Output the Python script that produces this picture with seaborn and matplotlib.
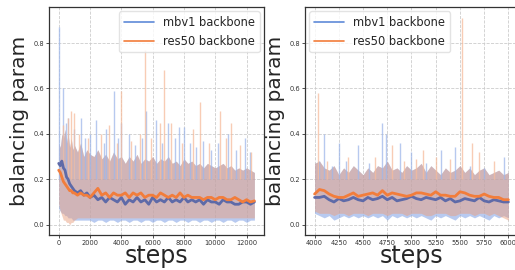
import numpy as np
import pandas as pd
import matplotlib
matplotlib.use("Agg")
import matplotlib.pyplot as plt
import seaborn as sns

# ---- valores ----
# panel izquierdo: 0 - 12500 pasos
pasos_izq = [0, 100, 200, 300, 400, 500, 600, 700, 800, 900, 1000, 1200, 1400, 1600, 1800,
             2000, 2250, 2500, 2750, 3000, 3250, 3500, 3750, 4000, 4250, 4500, 4750, 5000,
             5250, 5500, 5750, 6000, 6250, 6500, 6750, 7000, 7250, 7500, 7750, 8000, 8250,
             8500, 8750, 9000, 9250, 9500, 9750, 10000, 10250, 10500, 10750, 11000, 11250,
             11500, 11750, 12000, 12250, 12500]
mbv1_izq = [0.27, 0.26, 0.28, 0.25, 0.24, 0.21, 0.20, 0.18, 0.17, 0.16, 0.15, 0.14, 0.15, 0.13,
            0.14, 0.12, 0.13, 0.11, 0.12, 0.10, 0.12, 0.11, 0.10, 0.12, 0.09, 0.11, 0.10, 0.12,
            0.10, 0.11, 0.09, 0.12, 0.10, 0.11, 0.10, 0.12, 0.10, 0.11, 0.10, 0.12, 0.10, 0.11,
            0.10, 0.11, 0.09, 0.11, 0.10, 0.10, 0.09, 0.11, 0.10, 0.10, 0.09, 0.09, 0.10, 0.10,
            0.09, 0.10]
res50_izq = [0.24, 0.23, 0.21, 0.19, 0.18, 0.17, 0.16, 0.15, 0.15, 0.14, 0.14, 0.13, 0.14, 0.13,
             0.13, 0.12, 0.14, 0.16, 0.13, 0.14, 0.12, 0.14, 0.13, 0.13, 0.14, 0.12, 0.14, 0.13,
             0.14, 0.12, 0.13, 0.13, 0.12, 0.14, 0.13, 0.12, 0.13, 0.12, 0.14, 0.12, 0.13, 0.12,
             0.12, 0.12, 0.11, 0.12, 0.12, 0.11, 0.12, 0.12, 0.11, 0.11, 0.12, 0.11, 0.10, 0.11,
             0.10, 0.105]
banda_izq_sup = [0.36, 0.34, 0.40, 0.38, 0.42, 0.36, 0.40, 0.34, 0.38, 0.33, 0.35, 0.32, 0.36,
                 0.30, 0.33, 0.31, 0.30, 0.33, 0.29, 0.31, 0.28, 0.32, 0.29, 0.30, 0.27, 0.30,
                 0.28, 0.31, 0.27, 0.29, 0.28, 0.30, 0.27, 0.29, 0.28, 0.30, 0.27, 0.28, 0.26,
                 0.29, 0.27, 0.28, 0.26, 0.27, 0.25, 0.27, 0.26, 0.25, 0.26, 0.27, 0.25, 0.26,
                 0.24, 0.25, 0.24, 0.25, 0.24, 0.23]
banda_izq_inf = [0.07, 0.06, 0.05, 0.05, 0.04, 0.04, 0.03, 0.03, 0.03, 0.02, 0.02, 0.02, 0.02,
                 0.02, 0.02, 0.02, 0.01, 0.02, 0.02, 0.01, 0.02, 0.02, 0.01, 0.02, 0.02, 0.01,
                 0.02, 0.02, 0.01, 0.02, 0.02, 0.01, 0.02, 0.02, 0.01, 0.02, 0.02, 0.01, 0.02,
                 0.02, 0.01, 0.02, 0.02, 0.01, 0.02, 0.02, 0.01, 0.02, 0.02, 0.01, 0.02, 0.02,
                 0.01, 0.02, 0.02, 0.01, 0.02, 0.02]
res50_izq_inf = [0.09, 0.06, 0.04, 0.02, 0.02, 0.01, 0.01, 0.00, 0.01, 0.01, 0.02, 0.03, 0.03,
                 0.03, 0.03, 0.03, 0.03, 0.03, 0.03, 0.03, 0.03, 0.03, 0.03, 0.03, 0.03, 0.03,
                 0.03, 0.03, 0.03, 0.03, 0.03, 0.03, 0.03, 0.03, 0.03, 0.03, 0.03, 0.03, 0.03,
                 0.03, 0.03, 0.03, 0.03, 0.03, 0.03, 0.03, 0.03, 0.03, 0.03, 0.03, 0.03, 0.03,
                 0.03, 0.03, 0.03, 0.03, 0.03, 0.03]
picos_mbv1_izq_x = [50, 300, 450, 600, 1000, 1400, 1700, 2000, 2400, 2900, 3000, 3500, 3800, 4000,
                    4500, 4900, 5300, 5600, 6200, 6600, 7000, 7400, 7700, 8000, 8400, 8800, 9200,
                    9700, 10200, 10800, 11300, 11900, 12200]
picos_mbv1_izq_y = [0.87, 0.60, 0.45, 0.47, 0.42, 0.47, 0.38, 0.40, 0.46, 0.36, 0.42, 0.59, 0.38,
                    0.45, 0.40, 0.35, 0.38, 0.50, 0.46, 0.36, 0.45, 0.38, 0.43, 0.43, 0.36, 0.34,
                    0.37, 0.33, 0.36, 0.40, 0.33, 0.38, 0.32]
picos_res50_izq_x = [300, 600, 800, 1000, 1300, 1900, 2700, 3200, 3700, 4000, 4600, 5200, 5500,
                     5900, 6500, 6700, 7200, 7900, 8600, 9000, 9600, 10300, 10700, 11000, 11600,
                     12300]
picos_res50_izq_y = [0.44, 0.47, 0.50, 0.49, 0.40, 0.38, 0.40, 0.44, 0.36, 0.59, 0.37, 0.40, 0.77,
                     0.38, 0.45, 0.68, 0.45, 0.36, 0.42, 0.54, 0.36, 0.50, 0.38, 0.45, 0.35, 0.32]

# panel derecho: 4000 - 6000 pasos
pasos_der = [4000, 4050, 4100, 4150, 4200, 4250, 4300, 4350, 4400, 4450, 4500, 4550, 4600,
             4650, 4700, 4750, 4800, 4850, 4900, 4950, 5000, 5050, 5100, 5150, 5200, 5250,
             5300, 5350, 5400, 5450, 5500, 5550, 5600, 5650, 5700, 5750, 5800, 5850, 5900,
             5950, 6000]
mbv1_der = [0.12, 0.12, 0.125, 0.11, 0.10, 0.115, 0.105, 0.11, 0.12, 0.11, 0.105, 0.12, 0.11,
            0.115, 0.125, 0.11, 0.12, 0.105, 0.11, 0.115, 0.125, 0.115, 0.11, 0.12, 0.115, 0.11,
            0.12, 0.105, 0.115, 0.10, 0.105, 0.115, 0.11, 0.105, 0.12, 0.105, 0.10, 0.11, 0.105,
            0.10, 0.10]
res50_der = [0.135, 0.155, 0.15, 0.135, 0.125, 0.12, 0.12, 0.13, 0.14, 0.125, 0.13, 0.135, 0.14,
             0.13, 0.15, 0.13, 0.14, 0.135, 0.13, 0.125, 0.13, 0.14, 0.14, 0.135, 0.13, 0.145,
             0.13, 0.13, 0.125, 0.125, 0.145, 0.14, 0.13, 0.125, 0.125, 0.135, 0.125, 0.12,
             0.12, 0.11, 0.11]
banda_der_sup = [0.27, 0.28, 0.25, 0.24, 0.26, 0.22, 0.25, 0.23, 0.26, 0.24, 0.22, 0.25, 0.23,
                 0.26, 0.25, 0.28, 0.24, 0.25, 0.23, 0.26, 0.24, 0.25, 0.27, 0.23, 0.26, 0.24,
                 0.22, 0.25, 0.23, 0.24, 0.26, 0.23, 0.25, 0.22, 0.24, 0.25, 0.22, 0.23, 0.24,
                 0.22, 0.23]
banda_der_inf = [0.05, 0.04, 0.03, 0.04, 0.02, 0.03, 0.04, 0.03, 0.04, 0.03, 0.04, 0.03, 0.04,
                 0.03, 0.04, 0.02, 0.04, 0.03, 0.04, 0.03, 0.04, 0.03, 0.04, 0.03, 0.02, 0.04,
                 0.03, 0.04, 0.03, 0.02, 0.04, 0.03, 0.04, 0.03, 0.04, 0.03, 0.02, 0.04, 0.03,
                 0.04, 0.03]
res50_der_inf = [0.06, 0.05, 0.05, 0.05, 0.04, 0.05, 0.05, 0.04, 0.05, 0.05, 0.05, 0.04, 0.05,
                 0.05, 0.05, 0.04, 0.05, 0.05, 0.05, 0.04, 0.05, 0.05, 0.05, 0.04, 0.04, 0.05,
                 0.05, 0.05, 0.04, 0.04, 0.05, 0.05, 0.05, 0.04, 0.05, 0.05, 0.04, 0.05, 0.04,
                 0.03, 0.02]
picos_mbv1_der_x = [4050, 4100, 4180, 4250, 4320, 4450, 4560, 4700, 4740, 4880, 5000, 5150, 5300,
                    5450, 5600, 5750, 5950]
picos_mbv1_der_y = [0.28, 0.40, 0.26, 0.36, 0.28, 0.35, 0.27, 0.45, 0.40, 0.36, 0.32, 0.27, 0.33,
                    0.34, 0.26, 0.25, 0.30]
picos_res50_der_x = [4040, 4130, 4350, 4620, 4800, 4920, 5050, 5120, 5250, 5400, 5520, 5620,
                     5700, 5850]
picos_res50_der_y = [0.58, 0.28, 0.30, 0.30, 0.35, 0.28, 0.29, 0.33, 0.30, 0.29, 0.91, 0.36,
                     0.32, 0.28]

etiquetas = ["mbv1 backbone", "res50 backbone"]
azul, naranja = "#5f8ad8", "#f27d3b"
azul_media = "#5e6aa8"

sns.set_style("whitegrid", {"grid.linestyle": "--", "grid.color": "#cccccc",
                            "axes.edgecolor": "#333333"})
plt.rcParams['font.family'] = ['DejaVu Sans']

fig = plt.figure(figsize=(5.15, 2.7), dpi=100)
ax1 = fig.add_axes([0.095, 0.13, 0.418, 0.845])
ax2 = fig.add_axes([0.592, 0.13, 0.414, 0.845])


def dibujar(ax, pasos, sup, inf, inf_res, mbv1, res50, pm_x, pm_y, pr_x, pr_y):
    # senal cruda (banda + picos)
    ax.fill_between(pasos, inf, sup, color="#8aa8e6", alpha=0.6, lw=0)
    ax.fill_between(pasos, inf_res, sup, color="#e8a080", alpha=0.5, lw=0)
    ax.vlines(pm_x, 0.2, pm_y, color="#9fb8ea", lw=1.0, alpha=0.75)
    ax.vlines(pr_x, 0.2, pr_y, color="#f6bc9c", lw=1.0, alpha=0.75)
    # curvas suavizadas
    df = pd.DataFrame({"step": list(pasos) * 2,
                       "val": list(mbv1) + list(res50),
                       "serie": [etiquetas[0]] * len(pasos) + [etiquetas[1]] * len(pasos)})
    sns.lineplot(data=df[df.serie == etiquetas[0]], x="step", y="val", ax=ax,
                 color=azul_media, lw=2.0, legend=False)
    sns.lineplot(data=df[df.serie == etiquetas[1]], x="step", y="val", ax=ax,
                 color=naranja, lw=2.0, legend=False)
    # lineas de leyenda
    ax.plot([], [], color=azul, lw=1.2, label=etiquetas[0])
    ax.plot([], [], color=naranja, lw=1.2, label=etiquetas[1])
    ax.set_ylim(-0.045, 0.96)
    ax.set_yticks([0.0, 0.2, 0.4, 0.6, 0.8])
    ax.set_yticklabels(["0.0", "0.2", "0.4", "0.6", "0.8"])
    ax.tick_params(labelsize=4.8, length=2, width=0.6, pad=1.5, colors="#333333",
                   left=True, bottom=True)
    ax.set_xlabel("steps", fontsize=17, labelpad=-1)
    ax.set_ylabel("balancing param", fontsize=14.5, labelpad=3)
    ax.grid(True, lw=0.6)
    for s in ax.spines.values():
        s.set_linewidth(0.9)


dibujar(ax1, pasos_izq, banda_izq_sup, banda_izq_inf, res50_izq_inf, mbv1_izq, res50_izq,
        picos_mbv1_izq_x, picos_mbv1_izq_y, picos_res50_izq_x, picos_res50_izq_y)
ax1.set_xlim(-625, 13125)
ax1.set_xticks([0, 2000, 4000, 6000, 8000, 10000, 12000])
ax1.legend(loc="upper right", fontsize=8.3, frameon=True, handlelength=2.6,
           borderaxespad=0.4, facecolor="white", edgecolor="#dddddd")

dibujar(ax2, pasos_der, banda_der_sup, banda_der_inf, res50_der_inf, mbv1_der, res50_der,
        picos_mbv1_der_x, picos_mbv1_der_y, picos_res50_der_x, picos_res50_der_y)
ax2.set_xlim(3900, 6100)
ax2.set_xticks([4000, 4250, 4500, 4750, 5000, 5250, 5500, 5750, 6000])
ax2.legend(loc="upper left", fontsize=8.3, frameon=True, handlelength=2.6,
           borderaxespad=0.4, facecolor="white", edgecolor="#dddddd")

fig.savefig("out.png", dpi=100)
